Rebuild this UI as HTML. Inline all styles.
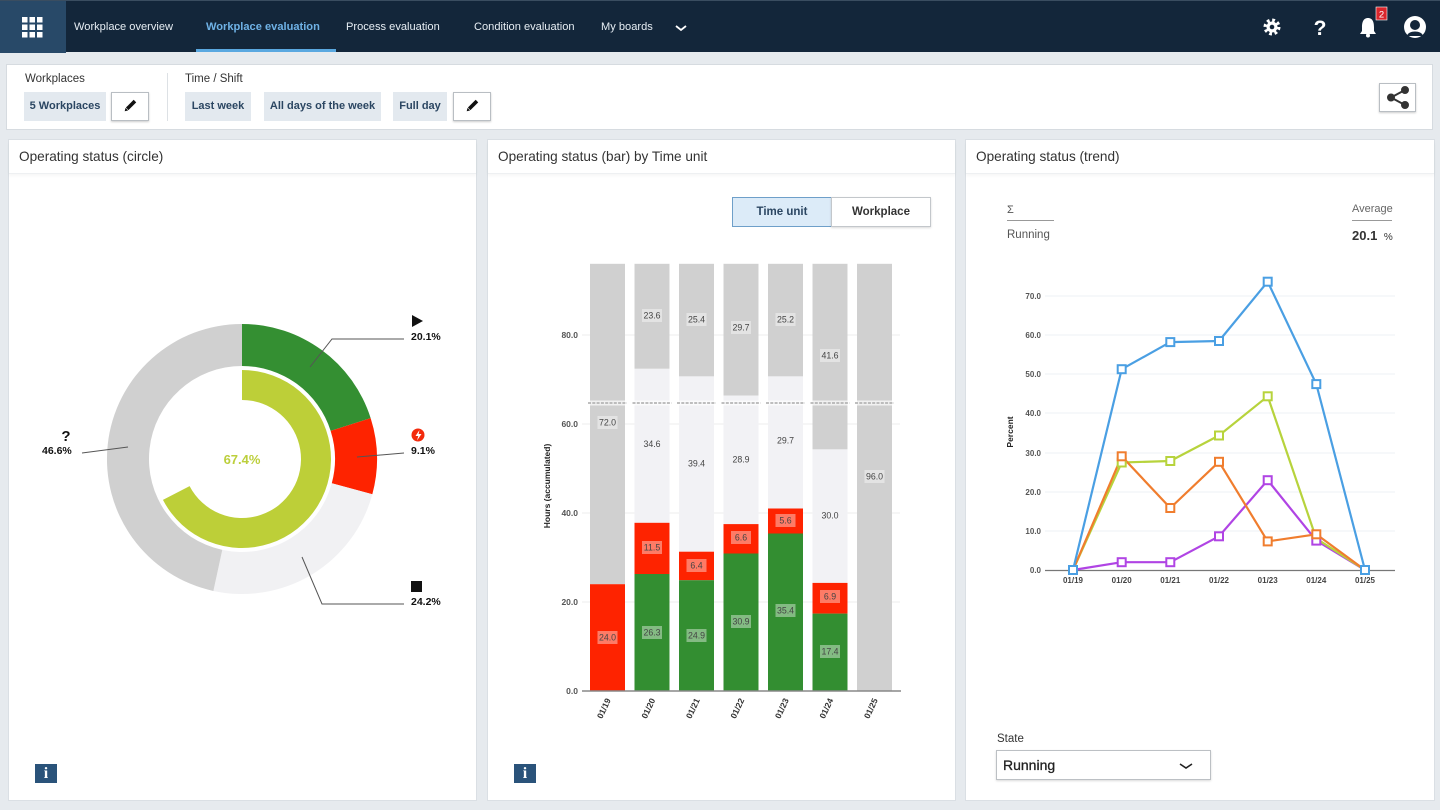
<!DOCTYPE html>
<html>
<head>
<meta charset="utf-8">
<style>
*{margin:0;padding:0;box-sizing:border-box;}
html,body{width:1440px;height:810px;overflow:hidden;background:#e6eaee;font-family:"Liberation Sans",Arial,sans-serif;color:#333;}
.abs{position:absolute;}
#nav{position:absolute;left:0;top:0;width:1440px;height:52px;background:#13263a;border-top:1px solid #3a4d60;}
#gridbtn{position:absolute;left:0;top:0;width:66px;height:52px;background:#284968;}
.navi{position:absolute;top:20px;font-size:11.1px;color:#e6edf3;white-space:nowrap;}
#filter{position:absolute;left:6px;top:64px;width:1427px;height:66px;background:#fff;border:1px solid #d6dbe0;}
.lbl{position:absolute;font-size:11.5px;color:#333;white-space:nowrap;}
.chip{position:absolute;top:92px;height:29px;background:#e3e9ef;font-size:11px;font-weight:bold;color:#2b4662;line-height:29px;text-align:center;white-space:nowrap;}
.ebtn{position:absolute;top:92px;width:38px;height:29px;background:#fff;border:1px solid #b9bec3;box-shadow:0 1px 2px rgba(0,0,0,0.2);}
.panel{position:absolute;top:139px;height:662px;background:#fff;border:1px solid #dadfe4;}
.phead{position:absolute;left:0;top:0;right:0;height:34px;border-bottom:1px solid #eef0f2;box-shadow:0 2px 3px rgba(0,0,0,0.04);}
.ptitle{position:absolute;left:10px;top:9px;font-size:13.6px;color:#333;white-space:nowrap;}
.info{position:absolute;width:22px;height:19px;background:#2a537a;color:#fff;font-family:"Liberation Serif",serif;font-weight:bold;font-size:16px;line-height:19px;text-align:center;}
</style>
</head>
<body>
<div id="nav">
  <div id="gridbtn"></div>
  <div class="navi" style="left:74px;">Workplace overview</div>
  <div class="navi" style="left:206px;color:#6fb2e6;font-weight:bold;">Workplace evaluation</div>
  <div class="abs" style="left:196px;top:48px;width:140px;height:3px;background:#5aa8e0;"></div>
  <div class="navi" style="left:346px;">Process evaluation</div>
  <div class="navi" style="left:474px;">Condition evaluation</div>
  <div class="navi" style="left:601px;">My boards</div>
</div>

<div id="filter"></div>
<div class="lbl" style="left:25px;top:73px;">Workplaces</div>
<div class="chip" style="left:24px;width:82px;">5 Workplaces</div>
<div class="ebtn" style="left:111px;"></div>
<div class="abs" style="left:167px;top:73px;width:1px;height:48px;background:#dde1e5;"></div>
<div class="lbl" style="left:185px;top:73px;">Time / Shift</div>
<div class="chip" style="left:185px;width:66px;">Last week</div>
<div class="chip" style="left:264px;width:117px;">All days of the week</div>
<div class="chip" style="left:393px;width:54px;">Full day</div>
<div class="ebtn" style="left:453px;"></div>
<div class="ebtn" style="left:1379px;top:83px;width:37px;"></div>

<div class="panel" style="left:8px;width:469px;"><div class="phead"><div class="ptitle">Operating status (circle)</div></div></div>
<div class="panel" style="left:487px;width:469px;"><div class="phead"><div class="ptitle">Operating status (bar) by Time unit</div></div></div>
<div class="panel" style="left:965px;width:470px;"><div class="phead"><div class="ptitle">Operating status (trend)</div></div></div>

<div class="info" style="left:35px;top:764px;">i</div>
<div class="info" style="left:514px;top:764px;">i</div>

<!-- toggle -->
<div class="abs" style="left:732px;top:197px;width:100px;height:30px;background:#dcebf8;border:1px solid #6e9fc9;font-size:11.5px;font-weight:bold;color:#2b4662;line-height:28px;text-align:center;">Time unit</div>
<div class="abs" style="left:831px;top:197px;width:100px;height:30px;background:#fff;border:1px solid #c3c7cb;box-shadow:0 1px 2px rgba(0,0,0,0.15);font-size:11.5px;font-weight:bold;color:#333;line-height:28px;text-align:center;">Workplace</div>

<!-- trend header -->
<div class="lbl" style="left:1007px;top:204px;font-size:11px;color:#555;">Σ</div>
<div class="abs" style="left:1007px;top:220px;width:47px;height:1px;background:#999;"></div>
<div class="lbl" style="left:1007px;top:229px;font-size:11.5px;color:#555;">Running</div>
<div class="lbl" style="left:1352px;top:203px;font-size:11px;color:#666;">Average</div>
<div class="abs" style="left:1352px;top:220px;width:40px;height:1px;background:#999;"></div>
<div class="lbl" style="left:1352px;top:228px;font-size:13px;font-weight:bold;color:#333;">20.1 <span style="font-size:10px;font-weight:normal;margin-left:3px;">%</span></div>

<!-- state select -->
<div class="lbl" style="left:997px;top:733px;font-size:11.5px;">State</div>
<div class="abs" style="left:996px;top:750px;width:215px;height:30px;background:#fff;border:1px solid #bcc0c4;box-shadow:0 1px 2px rgba(0,0,0,0.15);"></div>
<div class="lbl" style="left:1003px;top:757px;font-size:14px;color:#222;-webkit-text-stroke:0.3px #222;">Running</div>

<svg class="abs" style="left:0;top:0;" width="1440" height="810" viewBox="0 0 1440 810" font-family="Liberation Sans, Arial, sans-serif">
  <!-- grid icon -->
  <g fill="#fff">
    <rect x="22" y="17" width="5.5" height="5.5"/><rect x="29.5" y="17" width="5.5" height="5.5"/><rect x="37" y="17" width="5.5" height="5.5"/>
    <rect x="22" y="24.5" width="5.5" height="5.5"/><rect x="29.5" y="24.5" width="5.5" height="5.5"/><rect x="37" y="24.5" width="5.5" height="5.5"/>
    <rect x="22" y="32" width="5.5" height="5.5"/><rect x="29.5" y="32" width="5.5" height="5.5"/><rect x="37" y="32" width="5.5" height="5.5"/>
  </g>
  <!-- nav chevron -->
  <polyline points="676,26 681,30 686,26" fill="none" stroke="#fff" stroke-width="1.8"/>
  <!-- gear -->
  <g transform="translate(1272,27)">
    <circle r="6.5" fill="none" stroke="#fff" stroke-width="4" stroke-dasharray="2.6 2.5"/>
    <circle r="5.5" fill="#fff"/>
    <circle r="2.3" fill="#13263a"/>
  </g>
  <text x="1320" y="35" font-size="21" font-weight="bold" fill="#fff" text-anchor="middle">?</text>
  <!-- bell -->
  <path d="M1368,18 C1363,18 1362,23 1362,27 L1362,31 L1360,34 L1376,34 L1374,31 L1374,27 C1374,23 1373,18 1368,18 Z" fill="#fff"/>
  <circle cx="1368" cy="35.5" r="2" fill="#fff"/>
  <rect x="1376" y="7" width="11" height="13" fill="#d9262c" stroke="#fff" stroke-width="0.6"/>
  <text x="1381.5" y="17.5" font-size="9.5" fill="#fff" text-anchor="middle">2</text>
  <!-- avatar -->
  <circle cx="1415" cy="27" r="11" fill="#fff"/>
  <circle cx="1415" cy="25" r="5" fill="#13263a"/>
  <path d="M1407,36 C1408,30 1422,30 1423,36 Z" fill="#13263a"/>

  <!-- pencils -->
  <g transform="translate(130,106) rotate(45)"><rect x="-1.8" y="-7" width="3.6" height="11" fill="#111"/><polygon points="-1.8,4.5 1.8,4.5 0,7.5" fill="#111"/></g>
  <g transform="translate(472,106) rotate(45)"><rect x="-1.8" y="-7" width="3.6" height="11" fill="#111"/><polygon points="-1.8,4.5 1.8,4.5 0,7.5" fill="#111"/></g>
  <!-- share -->
  <g fill="#333" stroke="#333" stroke-width="2">
    <line x1="1405" y1="90" x2="1391" y2="97.5"/><line x1="1405" y1="105" x2="1391" y2="97.5"/>
    <circle cx="1405" cy="90" r="3"/><circle cx="1391" cy="97.5" r="3"/><circle cx="1405" cy="105" r="3"/>
  </g>

  <!-- DONUT -->
  <path d="M242,324 A135,135 0 0 1 370.66,418.09 L330.63,430.82 A93,93 0 0 0 242,366 Z" fill="#348f32"/>
  <path d="M370.66,418.09 A135,135 0 0 1 372.33,494.21 L331.78,483.25 A93,93 0 0 0 330.63,430.82 Z" fill="#fe2300"/>
  <path d="M372.33,494.21 A135,135 0 0 1 213.38,590.94 L222.28,549.89 A93,93 0 0 0 331.78,483.25 Z" fill="#f1f1f3"/>
  <path d="M213.38,590.94 A135,135 0 0 1 242,324 L242,366 A93,93 0 0 0 222.28,549.89 Z" fill="#d0d0d0"/>
  <path d="M242,370 A89,89 0 1 1 162.95,499.90 L189.60,486.12 A59,59 0 1 0 242,400 Z" fill="#bdcf38"/>
  <text x="242" y="464" font-size="13" font-weight="bold" fill="#bccf3c" text-anchor="middle">67.4%</text>
  <g stroke="#555" stroke-width="1" fill="none">
    <polyline points="310,367 332,339 404,339"/>
    <polyline points="357,457 404,453"/>
    <polyline points="302,557 322,604 404,604"/>
    <polyline points="128,447 82,453"/>
  </g>
  <polygon points="412,315 412,327 423,321" fill="#111"/>
  <text x="411" y="340" font-size="10.5" font-weight="bold" fill="#111">20.1%</text>
  <circle cx="418" cy="435" r="6.5" fill="#f32a0c"/>
  <polygon points="419.5,430 415.5,436 418.3,436 417,440.5 421.5,434 418.6,434" fill="#fff"/>
  <text x="411" y="454" font-size="10.5" font-weight="bold" fill="#111">9.1%</text>
  <rect x="411" y="581" width="11" height="11" fill="#111"/>
  <text x="411" y="605" font-size="10.5" font-weight="bold" fill="#111">24.2%</text>
  <text x="66" y="441" font-size="15" font-weight="bold" fill="#111" text-anchor="middle">?</text>
  <text x="42" y="454" font-size="10.5" font-weight="bold" fill="#111">46.6%</text>

  <!-- BAR CHART -->
  <g stroke="#eeeeee" stroke-width="1">
    <line x1="582" y1="602" x2="900" y2="602"/><line x1="582" y1="513" x2="900" y2="513"/>
    <line x1="582" y1="424" x2="900" y2="424"/><line x1="582" y1="335" x2="900" y2="335"/>
  </g>
  <g font-size="8.5" fill="#555" text-anchor="end" font-weight="bold">
    <text x="578" y="694">0.0</text><text x="578" y="605">20.0</text><text x="578" y="516">40.0</text>
    <text x="578" y="427">60.0</text><text x="578" y="338">80.0</text>
  </g>
  <text transform="translate(550,486) rotate(-90)" font-size="8.5" font-weight="bold" fill="#222" text-anchor="middle">Hours (accumulated)</text>
  <!-- bars -->
  <g>
    <rect x="590" y="263.8" width="35" height="320.4" fill="#d0d0d0"/>
    <rect x="590" y="584.2" width="35" height="106.8" fill="#fe2300"/>

    <rect x="634.5" y="263.8" width="35" height="105" fill="#d0d0d0"/>
    <rect x="634.5" y="368.8" width="35" height="154" fill="#f2f2f5"/>
    <rect x="634.5" y="522.8" width="35" height="51.2" fill="#fe2300"/>
    <rect x="634.5" y="574" width="35" height="117" fill="#338e31"/>

    <rect x="679" y="263.8" width="35" height="112.6" fill="#d0d0d0"/>
    <rect x="679" y="376.4" width="35" height="175.3" fill="#f2f2f5"/>
    <rect x="679" y="551.7" width="35" height="28.5" fill="#fe2300"/>
    <rect x="679" y="580.2" width="35" height="110.8" fill="#338e31"/>

    <rect x="723.5" y="263.8" width="35" height="131.7" fill="#d0d0d0"/>
    <rect x="723.5" y="395.5" width="35" height="128.6" fill="#f2f2f5"/>
    <rect x="723.5" y="524.1" width="35" height="29.4" fill="#fe2300"/>
    <rect x="723.5" y="553.5" width="35" height="137.5" fill="#338e31"/>

    <rect x="768" y="263.8" width="35" height="112.6" fill="#d0d0d0"/>
    <rect x="768" y="376.4" width="35" height="132.1" fill="#f2f2f5"/>
    <rect x="768" y="508.5" width="35" height="25" fill="#fe2300"/>
    <rect x="768" y="533.5" width="35" height="157.5" fill="#338e31"/>

    <rect x="812.5" y="263.8" width="35" height="185.6" fill="#d0d0d0"/>
    <rect x="812.5" y="449.4" width="35" height="133.5" fill="#f2f2f5"/>
    <rect x="812.5" y="582.9" width="35" height="30.7" fill="#fe2300"/>
    <rect x="812.5" y="613.6" width="35" height="77.4" fill="#338e31"/>

    <rect x="857" y="263.8" width="35" height="427.2" fill="#d0d0d0"/>
  </g>
  <!-- break line -->
  <g>
    <line x1="588" y1="403" x2="894" y2="403" stroke="#fff" stroke-width="5" opacity="0.7"/>
    <g stroke="#aaa" stroke-width="1.6" stroke-dasharray="3 1.3">
      <line x1="588" y1="403" x2="627" y2="403"/><line x1="632.5" y1="403" x2="671.5" y2="403"/>
      <line x1="677" y1="403" x2="716" y2="403"/><line x1="721.5" y1="403" x2="760.5" y2="403"/>
      <line x1="766" y1="403" x2="805" y2="403"/><line x1="810.5" y1="403" x2="849.5" y2="403"/>
      <line x1="855" y1="403" x2="894" y2="403"/>
    </g>
  </g>
  <!-- bar labels -->
  <g font-size="8.8" fill="#444" text-anchor="middle">
    <g fill="#fff" fill-opacity="0.4">
      <rect x="597.5" y="416" width="20" height="13"/><rect x="597.5" y="631" width="20" height="13"/>
      <rect x="642" y="309" width="20" height="13"/><rect x="642" y="541" width="20" height="13"/><rect x="642" y="626" width="20" height="13"/>
      <rect x="686.5" y="313" width="20" height="13"/><rect x="686.5" y="559" width="20" height="13"/><rect x="686.5" y="629" width="20" height="13"/>
      <rect x="731" y="321" width="20" height="13"/><rect x="731" y="531" width="20" height="13"/><rect x="731" y="615" width="20" height="13"/>
      <rect x="775.5" y="313" width="20" height="13"/><rect x="775.5" y="514" width="20" height="13"/><rect x="775.5" y="604" width="20" height="13"/>
      <rect x="820" y="349" width="20" height="13"/><rect x="820" y="590" width="20" height="13"/><rect x="820" y="645" width="20" height="13"/>
      <rect x="864.5" y="470" width="20" height="13"/>
    </g>
    <text x="607.5" y="425.5">72.0</text><text x="607.5" y="640.5">24.0</text>
    <text x="652" y="318.5">23.6</text><text x="652" y="447">34.6</text><text x="652" y="550.5">11.5</text><text x="652" y="635.5">26.3</text>
    <text x="696.5" y="466.5">39.4</text><text x="696.5" y="322.5">25.4</text><text x="696.5" y="568.5">6.4</text><text x="696.5" y="638.5">24.9</text>
    <text x="741" y="330.5">29.7</text><text x="741" y="462.5">28.9</text><text x="741" y="540.5">6.6</text><text x="741" y="624.5">30.9</text>
    <text x="785.5" y="322.5">25.2</text><text x="785.5" y="443.5">29.7</text><text x="785.5" y="523.5">5.6</text><text x="785.5" y="613.5">35.4</text>
    <text x="830" y="358.5">41.6</text><text x="830" y="518.5">30.0</text><text x="830" y="599.5">6.9</text><text x="830" y="654.5">17.4</text>
    <text x="874.5" y="479.5">96.0</text>
  </g>
  <line x1="582" y1="691" x2="901" y2="691" stroke="#888" stroke-width="1.5"/>
  <g font-size="8.5" font-weight="bold" fill="#333" text-anchor="end">
    <text transform="translate(611,700) rotate(-65)">01/19</text>
    <text transform="translate(655.5,700) rotate(-65)">01/20</text>
    <text transform="translate(700,700) rotate(-65)">01/21</text>
    <text transform="translate(744.5,700) rotate(-65)">01/22</text>
    <text transform="translate(789,700) rotate(-65)">01/23</text>
    <text transform="translate(833.5,700) rotate(-65)">01/24</text>
    <text transform="translate(878,700) rotate(-65)">01/25</text>
  </g>

  <!-- TREND CHART -->
  <g stroke="#eef2f5" stroke-width="1">
    <line x1="1045" y1="531" x2="1395" y2="531"/><line x1="1045" y1="492" x2="1395" y2="492"/>
    <line x1="1045" y1="453" x2="1395" y2="453"/><line x1="1045" y1="413" x2="1395" y2="413"/>
    <line x1="1045" y1="374" x2="1395" y2="374"/><line x1="1045" y1="335" x2="1395" y2="335"/>
    <line x1="1045" y1="296" x2="1395" y2="296"/>
  </g>
  <g font-size="8" fill="#555" text-anchor="end" font-weight="bold">
    <text x="1041" y="573">0.0</text><text x="1041" y="534">10.0</text><text x="1041" y="495">20.0</text>
    <text x="1041" y="456">30.0</text><text x="1041" y="416">40.0</text><text x="1041" y="377">50.0</text>
    <text x="1041" y="338">60.0</text><text x="1041" y="299">70.0</text>
  </g>
  <text transform="translate(1013,432) rotate(-90)" font-size="8.5" font-weight="bold" fill="#222" text-anchor="middle">Percent</text>
  <line x1="1045" y1="570.5" x2="1395" y2="570.5" stroke="#777" stroke-width="1.2"/>
  <g font-size="8" font-weight="bold" fill="#444" text-anchor="middle">
    <text x="1073" y="583">01/19</text><text x="1121.7" y="583">01/20</text><text x="1170.3" y="583">01/21</text>
    <text x="1219" y="583">01/22</text><text x="1267.7" y="583">01/23</text><text x="1316.3" y="583">01/24</text>
    <text x="1365" y="583">01/25</text>
  </g>
  <g fill="none" stroke-width="2.2" stroke-linejoin="round">
    <polyline stroke="#b044e4" points="1073,570 1121.7,562.2 1170.3,562.2 1219,536.3 1267.7,480.2 1316.3,540.6 1365,570"/>
    <polyline stroke="#b7d33c" points="1073,570 1121.7,462.5 1170.3,461 1219,435.5 1267.7,396.3 1316.3,538.6 1365,570"/>
    <polyline stroke="#f07d2e" points="1073,570 1121.7,456.3 1170.3,508 1219,461.8 1267.7,541.4 1316.3,534.3 1365,570"/>
    <polyline stroke="#4a9fe3" points="1073,570 1121.7,369.2 1170.3,342.1 1219,341 1267.7,281.7 1316.3,384.1 1365,570"/>
  </g>
  <g fill="#fff" stroke-width="2">
    <g stroke="#b044e4">
      <rect x="1117.7" y="558.2" width="8" height="8"/><rect x="1166.3" y="558.2" width="8" height="8"/>
      <rect x="1215" y="532.3" width="8" height="8"/><rect x="1263.7" y="476.2" width="8" height="8"/><rect x="1312.3" y="536.6" width="8" height="8"/>
    </g>
    <g stroke="#b7d33c">
      <rect x="1117.7" y="458.5" width="8" height="8"/><rect x="1166.3" y="457" width="8" height="8"/>
      <rect x="1215" y="431.5" width="8" height="8"/><rect x="1263.7" y="392.3" width="8" height="8"/>
    </g>
    <g stroke="#f07d2e">
      <rect x="1117.7" y="452.3" width="8" height="8"/><rect x="1166.3" y="504" width="8" height="8"/>
      <rect x="1215" y="457.8" width="8" height="8"/><rect x="1263.7" y="537.4" width="8" height="8"/><rect x="1312.3" y="530.3" width="8" height="8"/>
    </g>
    <g stroke="#4a9fe3">
      <rect x="1069" y="566" width="8" height="8"/><rect x="1117.7" y="365.2" width="8" height="8"/><rect x="1166.3" y="338.1" width="8" height="8"/>
      <rect x="1215" y="337" width="8" height="8"/><rect x="1263.7" y="277.7" width="8" height="8"/><rect x="1312.3" y="380.1" width="8" height="8"/>
      <rect x="1361" y="566" width="8" height="8"/>
    </g>
  </g>
  <!-- select chevron -->
  <polyline points="1180,764 1186,768 1192,764" fill="none" stroke="#222" stroke-width="1.6"/>
</svg>
</body>
</html>
